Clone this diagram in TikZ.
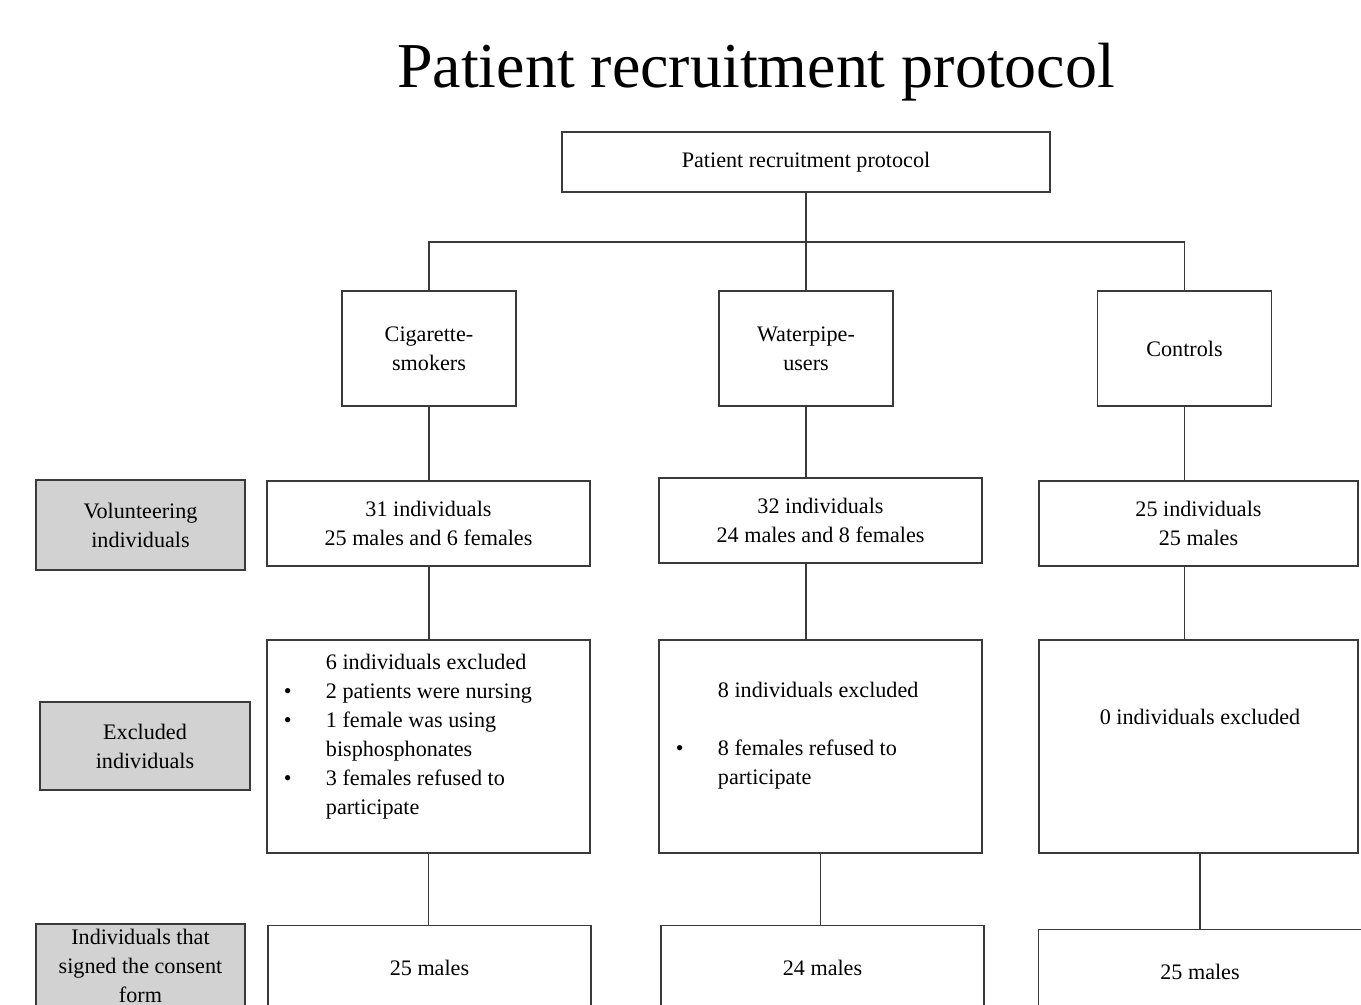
\documentclass[tikz,border=0pt]{standalone}
\usepackage{fontspec}
\setmainfont{Liberation Serif}
\usepackage{xcolor}
\definecolor{linegray}{HTML}{3A3A3A}
\definecolor{labelgray}{HTML}{D2D2D2}

\begin{document}
\begin{tikzpicture}[
  x=0.2mm, y=-0.2mm,
  line width=1.1pt,
  font=\fontsize{12.6}{16.5}\selectfont,
  box/.style={rectangle, draw=linegray, align=center, inner sep=0pt},
  groupbox/.style={box, minimum width=3.48cm, minimum height=2.3cm},
  countbox/.style={box, minimum width=6.46cm, minimum height=1.7cm},
  exbox/.style={box, minimum width=6.46cm, minimum height=4.26cm},
  rowlabel/.style={box, fill=labelgray, minimum width=4.18cm, minimum height=1.8cm},
  extext/.style={anchor=north west, inner sep=0pt, align=left},
  link/.style={draw=linegray, line width=1.1pt}
]
  \useasboundingbox (0,0) rectangle (1361,1005);
  \clip (0,0) rectangle (1361,1005);

  % title and top box
  \node[inner sep=0pt, anchor=base] (title) at (756,88) {\fontsize{36.4}{42}\selectfont Patient recruitment protocol};
  \node[box, minimum width=9.76cm, minimum height=1.2cm] (top) at (806,162) {Patient recruitment protocol};
  \coordinate (bus) at (806,242);

  % groups
  \node[groupbox] (cig) at (429,348.5) {Cigarette-\\smokers};
  \node[groupbox] (wp) at (806,348.5) {Waterpipe-\\users};
  \node[groupbox] (ctl) at (1184.5,348.5) {Controls};

  % row labels
  \node[rowlabel] (lab1) at (140.5,525) {Volunteering\\individuals};
  \node[rowlabel, minimum width=4.2cm, minimum height=1.76cm] (lab2) at (145,746) {Excluded\\individuals};
  \node[rowlabel, minimum height=1.84cm, text depth=5pt] (lab3) at (140.5,970) {Individuals that\\signed the consent\\form};

  % volunteers
  \node[countbox] (vol1) at (428.5,523.5) {31 individuals\\25 males and 6 females};
  \node[countbox] (vol2) at (820.5,520.5) {32 individuals\\24 males and 8 females};
  \node[countbox, minimum width=6.38cm] (vol3) at (1198.5,523.5) {25 individuals\\25 males};

  % excluded
  \node[exbox] (ex1) at (428.5,746.5) {};
  \node[exbox] (ex2) at (820.5,746.5) {};
  \node[exbox, minimum width=6.38cm] (ex3) at (1198.5,746.5) {};
  \node[extext] (ex1txt) at (283,648) {\begin{tabular}{@{}p{0.84cm}@{}l@{}}
    & 6 individuals excluded\\
    \textbullet & 2 patients were nursing\\
    \textbullet & 1 female was using\\
    & bisphosphonates\\
    \textbullet & 3 females refused to\\
    & participate
  \end{tabular}};
  \node[extext] (ex2txt) at (675,676) {\begin{tabular}{@{}p{0.84cm}@{}l@{}}
    & 8 individuals excluded\\
    & \\
    \textbullet & 8 females refused to\\
    & participate
  \end{tabular}};
  \node[inner sep=0pt] (ex3txt) at (1200,717) {0 individuals excluded};

  % consent
  \node[countbox] (sg1) at (429.5,968) {25 males};
  \node[countbox] (sg2) at (822.5,968) {24 males};
  \node[countbox] (sg3) at (1200,972) {25 males};

  % connectors
  \draw[link] (top.south) -- (bus);
  \draw[link] (cig.north) |- (bus) -| (ctl.north);
  \draw[link] (wp.north) -- (bus);
  \draw[link] (cig.south) -- (cig.south |- vol1.north);
  \draw[link] (wp.south) -- (wp.south |- vol2.north);
  \draw[link] (ctl.south) -- (ctl.south |- vol3.north);
  \draw[link] (cig.south |- vol1.south) -- (cig.south |- ex1.north);
  \draw[link] (wp.south |- vol2.south) -- (wp.south |- ex2.north);
  \draw[link] (ctl.south |- vol3.south) -- (ctl.south |- ex3.north);
  \draw[link] (ex1.south) -- (ex1.south |- sg1.north);
  \draw[link] (ex2.south) -- (ex2.south |- sg2.north);
  \draw[link] (sg3.north |- ex3.south) -- (sg3.north);
\end{tikzpicture}
\end{document}
